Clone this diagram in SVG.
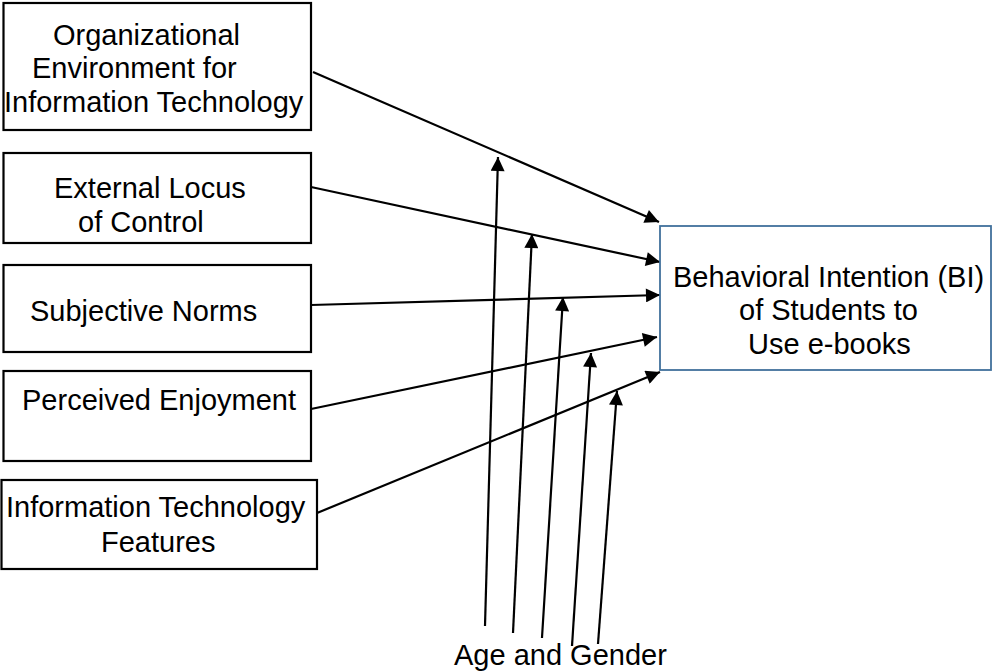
<svg xmlns="http://www.w3.org/2000/svg" width="992" height="672" viewBox="0 0 992 672">
<style>
  .box { fill: #ffffff; stroke: #000000; stroke-width: 2.2; }
  .target { fill: #ffffff; stroke: #41719C; stroke-width: 1.8; }
  .lbl { font-family: "Liberation Sans", Arial, sans-serif; font-size: 29px; fill: #000000; }
  .conn { fill: none; stroke: #000000; stroke-width: 2.2; marker-end: url(#arrow); }
</style>
<defs>
  <marker id="arrow" viewBox="0 0 10 10" refX="10" refY="5" markerUnits="userSpaceOnUse" markerWidth="15" markerHeight="14" orient="auto">
    <path d="M0,0 L10,5 L0,10 z" fill="#000000"/>
  </marker>
</defs>
<rect width="992" height="672" fill="#ffffff"/>

<g id="connectors">
  <path class="conn" d="M313,72 L659,222"/>
  <path class="conn" d="M311,187 L660,262"/>
  <path class="conn" d="M311,305 L660,295"/>
  <path class="conn" d="M311,409 L657,337"/>
  <path class="conn" d="M317,513 L660,372"/>
  <path class="conn" d="M485,626 L498,157"/>
  <path class="conn" d="M513,633 L532,234"/>
  <path class="conn" d="M542,638 L563,297"/>
  <path class="conn" d="M572,646 L591,353"/>
  <path class="conn" d="M598,644 L617,391"/>
</g>

<g id="node-org-env">
  <rect class="box" x="3.5" y="3" width="307.5" height="127"/>
  <text class="lbl" x="53" y="45">Organizational</text>
  <text class="lbl" x="32" y="78">Environment for</text>
  <text class="lbl" x="4" y="112">Information Technology</text>
</g>

<g id="node-locus">
  <rect class="box" x="3.5" y="153" width="307.5" height="90"/>
  <text class="lbl" x="54" y="198">External Locus</text>
  <text class="lbl" x="78" y="232">of Control</text>
</g>

<g id="node-norms">
  <rect class="box" x="3.5" y="265" width="307.5" height="87"/>
  <text class="lbl" x="30" y="321">Subjective Norms</text>
</g>

<g id="node-enjoyment">
  <rect class="box" x="3.5" y="371" width="307.5" height="90"/>
  <text class="lbl" x="22" y="410">Perceived Enjoyment</text>
</g>

<g id="node-it-features">
  <rect class="box" x="1.5" y="480" width="315.5" height="89"/>
  <text class="lbl" x="6" y="517">Information Technology</text>
  <text class="lbl" x="101" y="552">Features</text>
</g>

<g id="node-bi">
  <rect class="target" x="660" y="226" width="331" height="144"/>
  <text class="lbl" x="673" y="287">Behavioral Intention (BI)</text>
  <text class="lbl" x="739" y="320">of Students to</text>
  <text class="lbl" x="748" y="354">Use e-books</text>
</g>

<g id="node-age-gender">
  <text class="lbl" x="454" y="665">Age and Gender</text>
</g>
</svg>
